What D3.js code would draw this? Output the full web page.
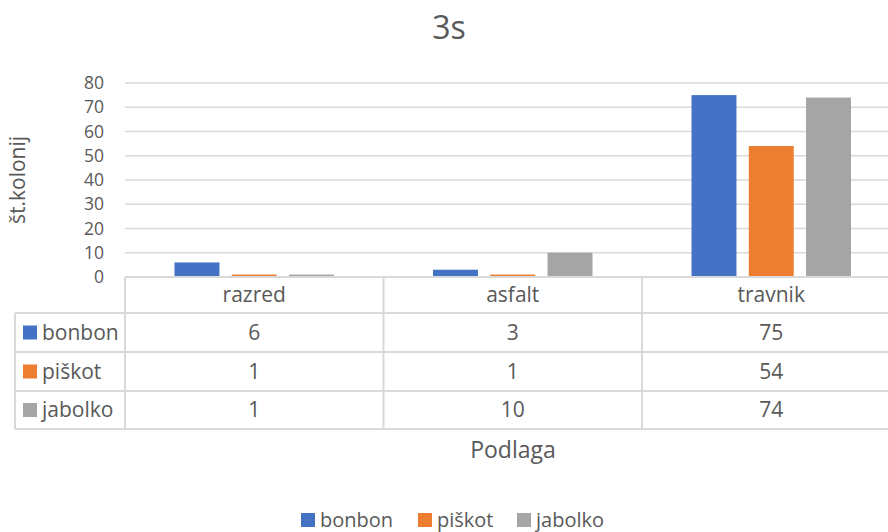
<!DOCTYPE html>
<meta charset="utf-8">
<script src="https://d3js.org/d3.v7.min.js"></script>
<style>
  body { margin: 0; background: #fff; }
  text { font-family: "Open Sans", Lato, sans-serif; fill: #595959; }
</style>
<div id="my_dataviz"></div>
<script>

// data
const categories = ["razred", "asfalt", "travnik"];
const seriesNames = ["bonbon", "piškot", "jabolko"];
const bonbon = [6, 3, 75];
const piskot = [1, 1, 54];
const jabolko = [1, 10, 74];
const yTicks = [0, 10, 20, 30, 40, 50, 60, 70, 80];
const colors = ["#4472c4", "#ed7d31", "#a5a5a5"];

const values = [bonbon, piskot, jabolko];

const width = 888, height = 532;
const fs = 21;
// plot runs past the right edge of the window, as in the picture
const plotLeft = 125, plotRight = 900.5, plotTop = 83, plotBase = 277;
const rowLines = [277, 313, 352, 391, 429];

const svg = d3.select("#my_dataviz")
  .append("svg")
    .attr("width", width)
    .attr("height", height);

// title
svg.append("text")
  .attr("x", 449).attr("y", 39)
  .attr("text-anchor", "middle")
  .attr("font-size", 32)
  .text("3s");

// scales
const x = d3.scaleBand()
  .domain(categories)
  .range([plotLeft, plotRight]);

const xs = d3.scaleBand()
  .domain(seriesNames)
  .range([49.5, x.bandwidth() - 49.5])
  .paddingInner(0.215);

const y = d3.scaleLinear()
  .domain([0, 80])
  .range([plotBase, plotTop]);

// gridlines
svg.append("g")
  .selectAll("line")
  .data(yTicks.slice(1))
  .join("line")
    .attr("x1", plotLeft).attr("x2", plotRight)
    .attr("y1", d => y(d)).attr("y2", d => y(d))
    .attr("stroke", "#d9d9d9")
    .attr("stroke-width", 1.5);

// y axis labels
const yAxis = svg.append("g")
  .attr("transform", `translate(${plotLeft - 21},0)`)
  .call(d3.axisLeft(y).tickValues(yTicks).tickSize(0).tickPadding(0));
yAxis.select(".domain").remove();
yAxis.selectAll("text")
  .attr("font-size", 17.5)
  .attr("font-family", "'Open Sans', Lato, sans-serif")
  .attr("fill", "#595959");

svg.append("text")
  .attr("transform", "translate(25,180) rotate(-90)")
  .attr("text-anchor", "middle")
  .attr("font-size", fs)
  .text("št.kolonij");

// bars
svg.append("g")
  .selectAll("g")
  .data(values)
  .join("g")
    .attr("fill", (d, i) => colors[i])
    .selectAll("rect")
    .data((d, i) => d.map((v, j) => ({v: v, cat: categories[j], s: seriesNames[i]})))
    .join("rect")
      .attr("x", d => x(d.cat) + xs(d.s))
      .attr("y", d => y(d.v))
      .attr("width", xs.bandwidth())
      .attr("height", d => y(0) - y(d.v));

// data table
const table = svg.append("g")
  .attr("stroke", "#d9d9d9")
  .attr("stroke-width", 2);

// horizontal lines
table.selectAll("line.h")
  .data(rowLines)
  .join("line")
    .attr("class", "h")
    .attr("x1", (d, i) => i === 0 ? plotLeft : 15)
    .attr("x2", plotRight)
    .attr("y1", d => d).attr("y2", d => d);

// vertical lines
const vx = [plotLeft].concat(categories.map(c => x(c) + x.bandwidth()));
table.append("line")
  .attr("x1", 15).attr("x2", 15)
  .attr("y1", rowLines[1]).attr("y2", rowLines[4]);
table.selectAll("line.v")
  .data(vx)
  .join("line")
    .attr("class", "v")
    .attr("x1", d => d).attr("x2", d => d)
    .attr("y1", rowLines[0]).attr("y2", rowLines[4]);

// category headers
svg.append("g")
  .selectAll("text")
  .data(categories)
  .join("text")
    .attr("x", d => x(d) + x.bandwidth() / 2)
    .attr("y", (rowLines[0] + rowLines[1]) / 2 + 7)
    .attr("text-anchor", "middle")
    .attr("font-size", fs)
    .text(d => d);

// row labels with keys
seriesNames.forEach((name, i) => {
  const cy = (rowLines[i + 1] + rowLines[i + 2]) / 2;
  svg.append("rect")
    .attr("x", 23).attr("y", cy - 7)
    .attr("width", 14).attr("height", 14)
    .attr("fill", colors[i]);
  svg.append("text")
    .attr("x", 42).attr("y", cy + 7)
    .attr("font-size", fs)
    .text(name);
  svg.append("g")
    .selectAll("text")
    .data(values[i])
    .join("text")
      .attr("x", (d, j) => x(categories[j]) + x.bandwidth() / 2)
      .attr("y", cy + 7)
      .attr("text-anchor", "middle")
      .attr("font-size", fs)
      .text(d => d);
});

// x axis title
svg.append("text")
  .attr("x", 513).attr("y", 458)
  .attr("text-anchor", "middle")
  .attr("font-size", fs + 2)
  .text("Podlaga");

// legend
const legendX = [301, 418, 517];
const legend = svg.append("g");
legend.selectAll("rect")
  .data(seriesNames)
  .join("rect")
    .attr("x", (d, i) => legendX[i])
    .attr("y", 513)
    .attr("width", 14).attr("height", 14)
    .attr("fill", (d, i) => colors[i]);
legend.selectAll("text")
  .data(seriesNames)
  .join("text")
    .attr("x", (d, i) => legendX[i] + 19)
    .attr("y", 527)
    .attr("font-size", fs - 1)
    .text(d => d);

</script>
